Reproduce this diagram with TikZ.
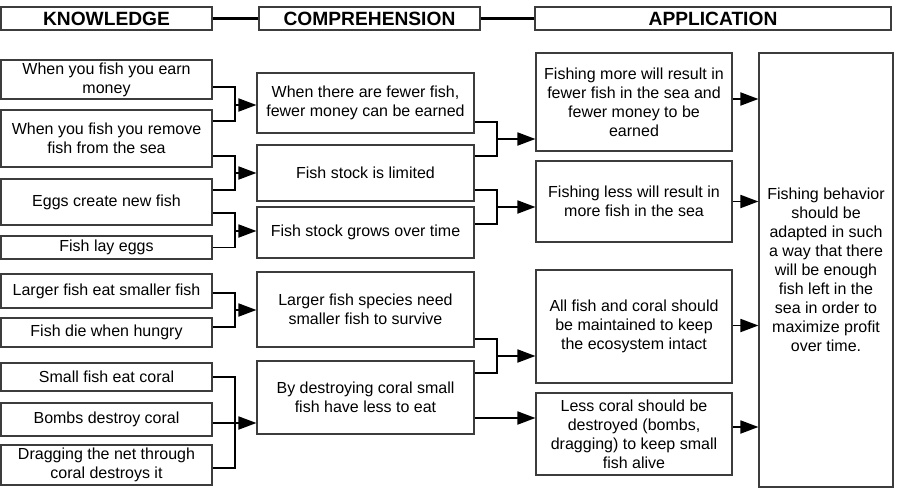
\documentclass[tikz,border=0pt]{standalone}
\usepackage{fontspec}
\setmainfont{Liberation Sans}
\usetikzlibrary{arrows.meta}
\definecolor{BoxGray}{RGB}{60,60,60}
\tikzset{
  stage/.style={draw=BoxGray,line width=1.1pt,inner sep=0pt,align=center,
    font=\fontsize{19.2}{22}\selectfont\bfseries},
  fact/.style={draw=BoxGray,line width=1.1pt,inner sep=0pt,align=center,
    font=\fontsize{16}{19}\selectfont},
  link/.style={line width=1.8pt},
  flow/.style={link,-{Triangle[length=18pt,width=13pt]}},
}
\newcommand{\factbox}[6]{%
  \node[fact,minimum width=#4pt,minimum height=#5pt] (#1) at (#2,#3) {#6};}
\newcommand{\pairjoin}[4]{%
  \draw[link] (#1) -| (#3) |- (#2);
  \draw[flow] (#3) -- (#4 |- #3);}

\begin{document}
\begin{tikzpicture}[x=1pt,y=-1pt]
  \useasboundingbox (0,0) rectangle (897,490);
  % stage headers
  \node[stage,minimum width=211pt,minimum height=23pt] (hk) at (106.5,18.5) {KNOWLEDGE};
  \node[stage,minimum width=221pt,minimum height=23pt] (hc) at (369.5,18.5) {COMPREHENSION};
  \node[stage,minimum width=356pt,minimum height=23pt] (ha) at (713,18.5) {APPLICATION};
  \draw[line width=3pt] (hk) -- (hc);
  \draw[line width=3pt] (hc) -- (ha);
  % knowledge
  \factbox{k1}{106.5}{79.5}{211}{39}{When you fish you earn\\money}
  \factbox{k2}{106.5}{138.5}{211}{57}{When you fish you remove\\fish from the sea}
  \factbox{k3}{106.5}{202}{211}{46}{Eggs create new fish}
  \factbox{k4}{106.5}{247.5}{211}{23}{Fish lay eggs}
  \factbox{k5}{106.5}{291}{211}{34}{Larger fish eat smaller fish}
  \factbox{k6}{106.5}{332.5}{211}{29}{Fish die when hungry}
  \factbox{k7}{106.5}{377}{211}{28}{Small fish eat coral}
  \factbox{k8}{106.5}{419.5}{211}{33}{Bombs destroy coral}
  \factbox{k9}{106.5}{465}{211}{40}{Dragging the net through\\coral destroys it}
  % comprehension
  \factbox{c1}{365.5}{103}{217}{60}{When there are fewer fish,\\fewer money can be earned}
  \factbox{c2}{365.5}{173}{217}{56}{Fish stock is limited}
  \factbox{c3}{365.5}{232.5}{217}{51}{Fish stock grows over time}
  \factbox{c4}{365.5}{309.5}{217}{75}{Larger fish species need\\smaller fish to survive}
  \factbox{c5}{365.5}{397.5}{217}{73}{By destroying coral small\\fish have less to eat}
  % application
  \factbox{a1}{634}{102}{196}{98}{Fishing more will result in\\fewer fish in the sea and\\fewer money to be\\earned}
  \factbox{a2}{634}{201.5}{196}{81}{Fishing less will result in\\more fish in the sea}
  \factbox{a3}{634}{326.5}{196}{113}{All fish and coral should\\be maintained to keep\\the ecosystem intact}
  \factbox{a4}{634}{434}{196}{82}{Less coral should be\\destroyed (bombs,\\dragging) to keep small\\fish alive}
  \factbox{f}{826}{270}{134}{434}{Fishing behavior\\should be\\adapted in such\\a way that there\\will be enough\\fish left in the\\sea in order to\\maximize profit\\over time.}
  % joints
  \coordinate (j1) at (235,105);
  \coordinate (j2) at (235,173);
  \coordinate (j3) at (235,231);
  \coordinate (j4) at (235,310);
  \coordinate (j5) at (235,423);
  \coordinate (d1) at (497,139);
  \coordinate (d2) at (497,207);
  \coordinate (d3) at (497,356);
  \coordinate (d4) at ([yshift=-20.5pt]c5.east);
  % knowledge -> comprehension
  \pairjoin{[yshift=-7.5pt]k1.east}{[yshift=17.5pt]k2.east}{j1}{c1.west}
  \pairjoin{[yshift=-17.5pt]k2.east}{[yshift=12pt]k3.east}{j2}{c2.west}
  \pairjoin{[yshift=-11pt]k3.east}{k4.east}{j3}{c3.west}
  \pairjoin{[yshift=-2pt]k5.east}{[yshift=5.5pt]k6.east}{j4}{c4.west}
  \draw[link] (k7.east) -| (j5) |- ([yshift=-3pt]k9.east);
  \draw[flow] (k8.east |- j5) -- (c5.west |- j5);
  % comprehension -> application
  \pairjoin{[yshift=-19pt]c1.east}{[yshift=17pt]c2.east}{d1}{a1.west}
  \pairjoin{[yshift=-17pt]c2.east}{[yshift=8.5pt]c3.east}{d2}{a2.west}
  \pairjoin{[yshift=-29.5pt]c4.east}{[yshift=24.5pt]c5.east}{d3}{a3.west}
  \draw[flow] (d4) -- (d4 -| a4.west);
  % application -> conclusion
  \foreach \n/\s in {a1/3,a2/0,a3/1,a4/7}
    \draw[flow] ([yshift=\s pt]\n.east) -- ([yshift=\s pt]\n.east -| f.west);
\end{tikzpicture}
\end{document}
